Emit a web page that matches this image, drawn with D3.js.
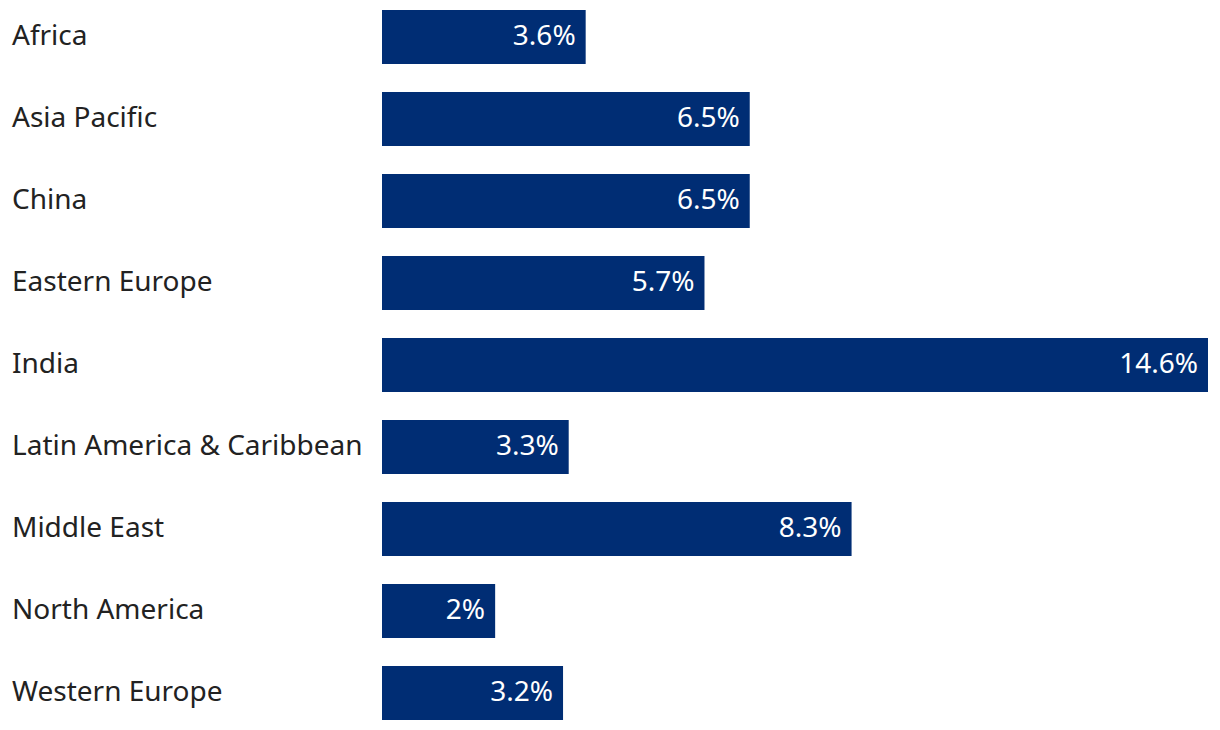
<!DOCTYPE html>
<html>
<head>
<meta charset="utf-8">
<script src="https://cdn.jsdelivr.net/npm/d3@7"></script>
<style>
  body { margin: 0; background: #fff; }
  svg { display: block; font-family: "Noto Sans", "Open Sans", sans-serif; }
</style>
</head>
<body>
<div id="chart"></div>
<script>
// data
const regions = ["Africa", "Asia Pacific", "China", "Eastern Europe", "India",
  "Latin America & Caribbean", "Middle East", "North America", "Western Europe"];
const shares = [3.6, 6.5, 6.5, 5.7, 14.6, 3.3, 8.3, 2, 3.2];

const width = 1220;
const height = 730;
const barLeft = 382;
const barRight = 1208;

const svg = d3.select("#chart")
    .append("svg")
    .attr("width", width)
    .attr("height", height);

const x = d3.scaleLinear()
    .domain([0, d3.max(shares)])
    .range([barLeft, barRight]);

const y = d3.scaleBand()
    .domain(regions)
    .range([-4, 734])
    .paddingInner(28 / 82)
    .paddingOuter(14 / 82);

const rows = svg.selectAll("g.row")
    .data(regions.map((r, i) => ({ region: r, value: shares[i] })))
    .join("g")
    .attr("class", "row");

rows.append("rect")
    .attr("x", x(0))
    .attr("y", d => y(d.region))
    .attr("width", d => x(d.value) - x(0))
    .attr("height", y.bandwidth())
    .attr("fill", "#002d74");

// category labels on the left
rows.append("text")
    .attr("x", 12)
    .attr("y", d => y(d.region) + y.bandwidth() / 2)
    .attr("dy", "0.3em")
    .attr("font-size", 28)
    .attr("fill", "#222")
    .text(d => d.region);

// value labels inside the bar end
rows.append("text")
    .attr("x", d => x(d.value) - 10)
    .attr("y", d => y(d.region) + y.bandwidth() / 2)
    .attr("dy", "0.3em")
    .attr("text-anchor", "end")
    .attr("font-size", 28)
    .attr("fill", "#fff")
    .text(d => d.value + "%");
</script>
</body>
</html>
